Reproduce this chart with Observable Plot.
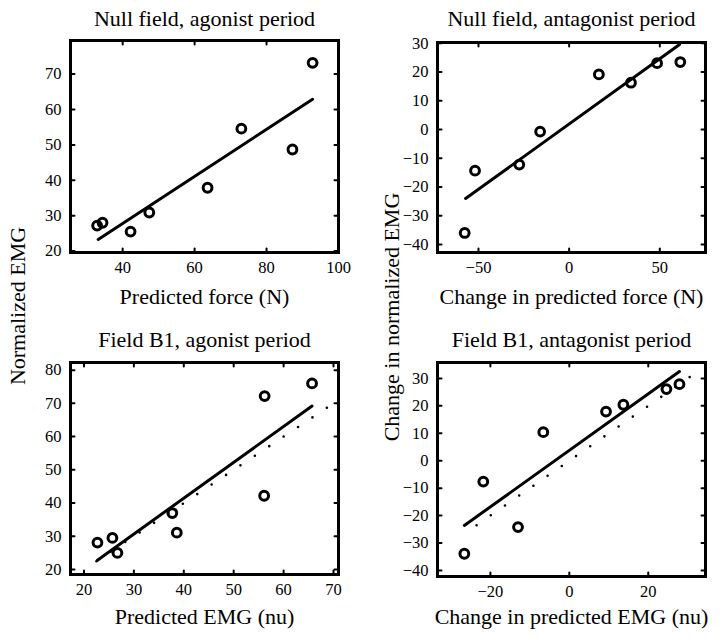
<!DOCTYPE html>
<html><head><meta charset="utf-8">
<script src="https://cdn.jsdelivr.net/npm/d3@7"></script>
<script src="https://cdn.jsdelivr.net/npm/@observablehq/plot@0.6"></script>
<style>
html,body{margin:0;padding:0;background:#fff;}
#wrap{position:relative;width:720px;height:637px;overflow:hidden;font-family:"Liberation Serif","Times New Roman",serif;color:#000;}
.panel{position:absolute;}
.panel text{font-family:"Liberation Serif","Times New Roman",serif !important;}
.ylab{position:absolute;font-size:22px;white-space:nowrap;transform:translate(-50%,-50%) rotate(-90deg);line-height:1;}
</style></head><body><div id="wrap"></div>
<script>
// Panel 1: Null field, agonist period
const p1X = [32.9, 34.4, 42.2, 47.4, 63.6, 73.0, 87.2, 92.8];
const p1Y = [27.2, 28.0, 25.5, 30.9, 37.9, 54.6, 48.7, 73.2];
const p1FitX = [33.2, 92.8];
const p1FitY = [23.3, 62.9];
const p1XTicks = [40, 60, 80, 100];
const p1YTicks = [20, 30, 40, 50, 60, 70];

// Panel 2: Null field, antagonist period
const p2X = [-57.6, -51.9, -27.5, -16.0, 16.4, 34.1, 48.5, 61.3];
const p2Y = [-36.0, -14.3, -12.2, -0.7, 19.2, 16.3, 23.1, 23.5];
const p2FitX = [-57.1, 60.9];
const p2FitY = [-24.0, 29.6];
const p2XTicks = [-50, 0, 50];
const p2YTicks = [-40, -30, -20, -10, 0, 10, 20, 30];

// Panel 3: Field B1, agonist period
const p3X = [22.7, 25.7, 26.7, 37.7, 38.6, 56.2, 56.1, 65.7];
const p3Y = [28.1, 29.5, 25.0, 37.0, 31.1, 72.2, 42.2, 76.0];
const p3FitX = [22.7, 65.7];
const p3FitY = [22.8, 69.2];
const p3IdX = [22.5, 69.0];
const p3XTicks = [20, 30, 40, 50, 60, 70];
const p3YTicks = [20, 30, 40, 50, 60, 70, 80];

// Panel 4: Field B1, antagonist period
const p4X = [-26.6, -21.8, -13.0, -6.6, 9.3, 13.7, 24.6, 27.9];
const p4Y = [-33.9, -7.6, -24.2, 10.4, 17.9, 20.4, 26.1, 27.9];
const p4FitX = [-26.6, 27.9];
const p4FitY = [-23.6, 32.5];
const p4IdX = [-23.5, 30.9];
const p4XTicks = [-20, 0, 20];
const p4YTicks = [-40, -30, -20, -10, 0, 10, 20, 30];

const titles = ["Null field, agonist period", "Null field, antagonist period", "Field B1, agonist period", "Field B1, antagonist period"];
const xLabels = ["Predicted force (N)", "Change in predicted force (N)", "Predicted EMG (nu)", "Change in predicted EMG (nu)"];
const yLabels = ["Normalized EMG", "Change in normalized EMG"];

const FONT = "'Liberation Serif','Times New Roman',serif";
const wrap = document.getElementById("wrap");
const tickShape = {draw(ctx, l) { ctx.moveTo(0, 0); ctx.lineTo(0, -l); }};

function panel(cfg) {
  const pts = cfg.px.map((x, i) => ({x, y: cfg.py[i]}));
  const fit = cfg.fx.map((x, i) => ({x, y: cfg.fy[i]}));
  const tk = {length: 4, anchor: "start", shape: tickShape, stroke: "black", strokeWidth: 2};
  const marks = [
    Plot.frame({stroke: "black", strokeWidth: 3}),
    Plot.axisX(cfg.xt, {anchor: "bottom", tickSize: 0, tickPadding: 9, label: null, fontSize: 16.5, fontFamily: FONT, fill: "black"}),
    Plot.axisY(cfg.yt, {anchor: "left", tickSize: 0, tickPadding: 9, label: null, fontSize: 16.5, fontFamily: FONT, fill: "black"}),
    Plot.vector(cfg.xt, {x: d => d, frameAnchor: "bottom", rotate: 0, ...tk}),
    Plot.vector(cfg.xt, {x: d => d, frameAnchor: "top", rotate: 180, ...tk}),
    Plot.vector(cfg.yt, {y: d => d, frameAnchor: "left", rotate: 90, ...tk}),
    Plot.vector(cfg.yt, {y: d => d, frameAnchor: "right", rotate: -90, ...tk}),
  ];
  if (cfg.id) {
    const idl = cfg.id.map(v => ({x: v, y: v}));
    marks.push(Plot.line(idl, {x: "x", y: "y", stroke: "black", strokeWidth: 2.6, strokeLinecap: "round", strokeDasharray: "0,17.3"}));
  }
  marks.push(
    Plot.line(fit, {x: "x", y: "y", stroke: "black", strokeWidth: 3}),
    Plot.dot(pts, {x: "x", y: "y", r: 4.4, stroke: "black", strokeWidth: 3, fill: "none"}),
    Plot.text([cfg.title], {text: d => d, frameAnchor: "top", dy: cfg.tdy, lineAnchor: "bottom", fontSize: 22, fontFamily: FONT, fill: "black"}),
    Plot.text([cfg.xlabel], {text: d => d, frameAnchor: "bottom", dy: cfg.xdy, lineAnchor: "bottom", fontSize: 22, fontFamily: FONT, fill: "black"})
  );
  const svg = Plot.plot({
    width: cfg.w, height: cfg.h,
    marginLeft: cfg.mL, marginRight: cfg.mR, marginTop: cfg.mT, marginBottom: cfg.mB,
    x: {domain: cfg.xd}, y: {domain: cfg.yd},
    style: {fontFamily: FONT, fontSize: "16.5px", color: "black", background: "transparent", overflow: "visible"},
    marks
  });
  svg.classList.add("panel");
  svg.style.left = cfg.left + "px";
  svg.style.top = cfg.top + "px";
  wrap.appendChild(svg);
}

panel({left: 0, top: 0, w: 360, h: 318, mL: 70, mR: 22, mT: 40, mB: 66,
  xd: [25.5, 100], yd: [19.6, 79.5], xt: p1XTicks, yt: p1YTicks,
  px: p1X, py: p1Y, fx: p1FitX, fy: p1FitY, title: titles[0], xlabel: xLabels[0], tdy: -15, xdy: 51});
panel({left: 360, top: 0, w: 360, h: 318, mL: 77, mR: 15, mT: 42, mB: 66,
  xd: [-72.6, 75.2], yd: [-42.8, 30.3], xt: p2XTicks, yt: p2YTicks,
  px: p2X, py: p2Y, fx: p2FitX, fy: p2FitY, title: titles[1], xlabel: xLabels[1], tdy: -17, xdy: 51});
panel({left: 0, top: 318, w: 360, h: 319, mL: 70, mR: 22, mT: 44, mB: 63,
  xd: [17.3, 71], yd: [18.5, 82.3], xt: p3XTicks, yt: p3YTicks,
  px: p3X, py: p3Y, fx: p3FitX, fy: p3FitY, id: p3IdX, title: titles[2], xlabel: xLabels[2], tdy: -16, xdy: 49});
panel({left: 360, top: 318, w: 360, h: 319, mL: 77, mR: 15, mT: 44, mB: 61,
  xd: [-33.4, 34.5], yd: [-42.2, 35.8], xt: p4XTicks, yt: p4YTicks,
  px: p4X, py: p4Y, fx: p4FitX, fy: p4FitY, id: p4IdX, title: titles[3], xlabel: xLabels[3], tdy: -16, xdy: 47});

const yl1 = document.createElement("div");
yl1.className = "ylab"; yl1.textContent = yLabels[0];
yl1.style.left = "18px"; yl1.style.top = "306px";
wrap.appendChild(yl1);
const yl2 = document.createElement("div");
yl2.className = "ylab"; yl2.textContent = yLabels[1];
yl2.style.left = "392px"; yl2.style.top = "317px";
wrap.appendChild(yl2);
</script></body></html>
